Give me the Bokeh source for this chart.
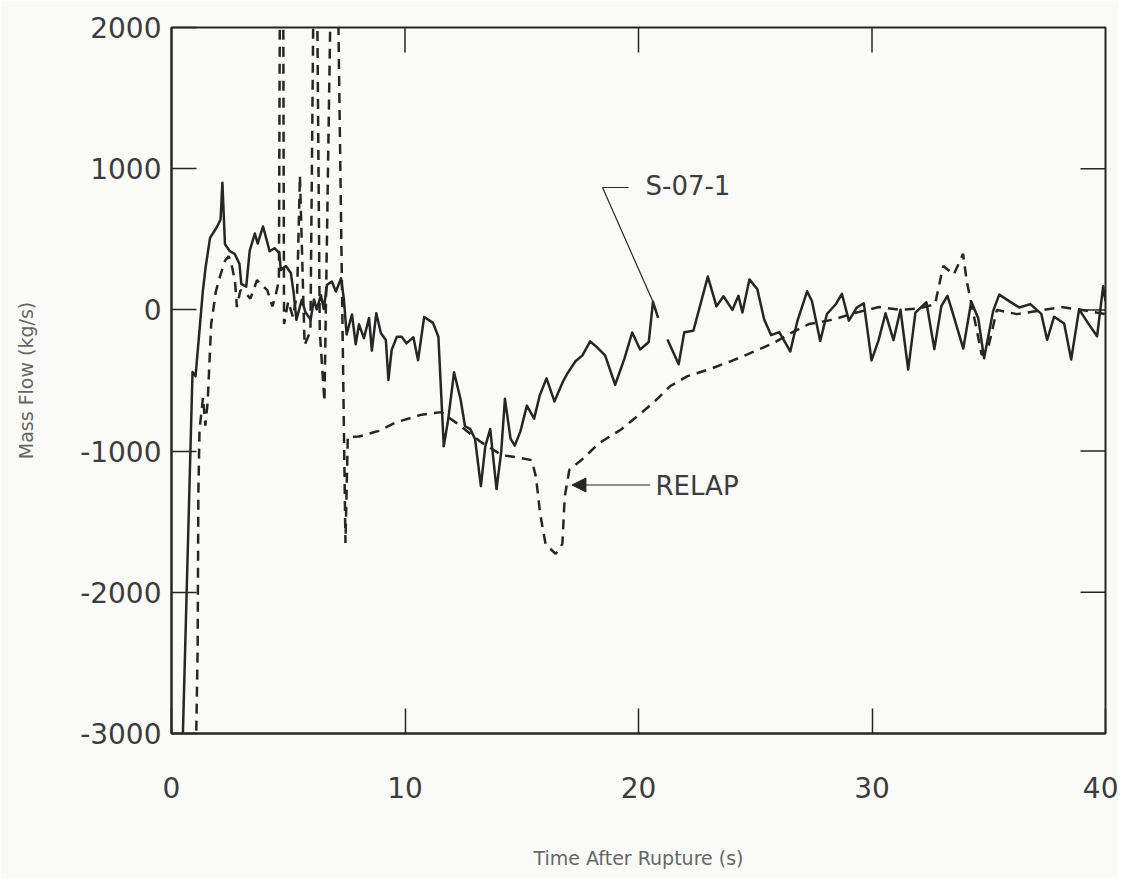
import math
from bokeh.plotting import figure
from bokeh.models import Range1d, FixedTicker, Arrow, NormalHead, Label
from bokeh.embed import file_html
from bokeh.resources import INLINE

nan = float("nan")

# ---- data ----
X_TICKS = [0, 10, 20, 30, 40]
Y_TICKS = [-3000, -2000, -1000, 0, 1000, 2000]
Y_TICK_LABELS = ["-3000", "-2000", "-1000", "0", "1000", "2000"]

# S-07-1 (measured, solid)
T_S = [0.48, 0.9, 1.03, 1.22, 1.34, 1.46, 1.65, 1.94, 2.1, 2.18,
       2.29, 2.5, 2.71, 2.91, 2.99, 3.2, 3.35, 3.57, 3.69, 3.92,
       4.08, 4.2, 4.41, 4.62, 4.68, 4.9, 5.11, 5.23, 5.35, 5.58,
       5.74, 5.96, 6.1, 6.22, 6.4, 6.52, 6.66, 6.87, 7.04, 7.26,
       7.38, 7.5, 7.73, 7.89, 8.03, 8.24, 8.46, 8.58, 8.77, 8.97,
       9.18, 9.29, 9.43, 9.65, 9.86, 10.06, 10.36, 10.56, 10.82, 11.2,
       11.43, 11.66, 11.85, 12.1, 12.38, 12.57, 12.8, 13.0, 13.25, 13.44,
       13.65, 13.92, 14.12, 14.28, 14.52, 14.7, 14.94, 15.22, 15.53, 15.77,
       16.06, 16.4, 16.77, 16.95, 17.3, 17.6, 17.93, 18.27, 18.57, 19.0,
       19.4, 19.73, 20.07, 20.44, 20.62, 20.84,
       nan,
       21.24, 21.72, 21.96, 22.35, 22.97, 23.34, 23.64, 24.02, 24.28, 24.45,
       24.75, 25.09, 25.38, 25.68, 26.03, 26.5, 26.8, 27.22, 27.43, 27.78,
       28.07, 28.46, 28.71, 29.01, 29.35, 29.65, 29.98, 30.28, 30.58, 30.92,
       31.22, 31.55, 31.86, 32.33, 32.67, 32.97, 33.23, 33.44, 33.91, 34.25,
       34.55, 34.8, 35.19, 35.45, 35.84, 36.31, 36.78, 37.25, 37.5, 37.8,
       38.23, 38.53, 38.87, 39.26, 39.64, 39.9, 40.0]
V_S = [-3050, -440, -470, -105, 130, 300, 510, 585, 640, 900,
       465, 416, 396, 326, 184, 164, 420, 541, 470, 591,
       492, 415, 437, 402, 282, 311, 262, 122, -70, 72,
       -19, -68, 74, 4, 104, 6, 178, 200, 130, 223,
       80, -174, -32, -244, -102, -200, -57, -289, -24, -165,
       -213, -496, -283, -190, -190, -237, -194, -356, -50, -92,
       -190, -966, -775, -442, -633, -824, -845, -915, -1248, -965,
       -844, -1269, -1006, -630, -912, -961, -862, -678, -770, -606,
       -485, -648, -506, -451, -364, -322, -223, -272, -322, -530,
       -343, -160, -280, -227, 57, -56,
       nan,
       -209, -385, -158, -148, 236, 25, 97, 0, 100, -19,
       216, 146, -66, -179, -157, -294, -82, 132, 61, -221,
       -29, 42, 114, -76, 17, 46, -358, -216, -24, -214,
       1, -423, -19, 54, -278, 27, 99, -13, -274, 60,
       -59, -342, -7, 108, 66, 17, 41, -28, -212, -48,
       -96, -351, 4, -95, -187, 168, 60]

# RELAP (calculated, dashed)
T_R = [1.05, 1.12, 1.15, 1.2, 1.35, 1.45, 1.55, 1.7, 1.9, 2.1,
       2.3, 2.45, 2.6, 2.72, 2.8, 2.95, 3.17, 3.38, 3.66, 4.1,
       4.32, 4.45, 4.6, 4.65, 4.78, 4.82, 5.0, 5.2, 5.38, 5.5,
       5.7, 5.95, 6.1, 6.22, 6.35, 6.55, 6.85, 7.1, 7.45, 7.55,
       8.03, 8.88, 9.6, 10.71, 11.56, 12.2, 13.2, 14.15, 14.88, 15.43,
       15.61, 15.79, 16.02, 16.45, 16.74, 16.84, 17.04, 17.58, 18.3, 19.27,
       20.12, 20.68, 21.35, 22.1, 23.08, 24.02, 24.96, 25.77, 26.54, 27.3,
       28.3, 29.3, 30.3, 31.2, 32.0, 32.7, 33.05, 33.5, 33.9, 34.06,
       34.3, 34.7, 35.0, 35.35, 36.2, 37.0, 38.1, 39.0, 40.0]
V_R = [-3100, -2400, -1300, -850, -620, -820, -650, -100, 130, 250,
       350, 380, 300, 200, 20, 140, 120, 80, 210, 140,
       25, 95, 210, 2600, 2600, -100, 60, -50, 120, 950,
       -250, -150, 2600, 2600, -150, -650, 2600, 2600, -1650, -900,
       -897, -857, -797, -742, -724, -800, -930, -1029, -1046, -1064,
       -1185, -1446, -1658, -1728, -1657, -1324, -1132, -1060, -945, -845,
       -730, -651, -541, -469, -418, -359, -294, -236, -163, -100,
       -70, -20, 20, 0, 10, 40, 311, 250, 397, 200,
       10, -320, -250, 0, -30, -10, 20, 0, -30]

LABEL_S = "S-07-1"
LABEL_R = "RELAP"
X_TITLE = "Time After Rupture (s)"
Y_TITLE = "Mass Flow (kg/s)"

# annotation anchor points (data units)
S_LABEL_POS = (20.3, 874)
S_LEADER_T = [19.57, 18.46, 20.62]
S_LEADER_V = [867, 867, 57]
R_LABEL_POS = (20.73, -1250)
R_ARROW = (20.5, -1240, 17.15, -1240)

INK = "#262626"
TXT = "#3c3c3c"
BG = "#fafaf8"
FONT = "DejaVu Sans"
TICK_LEN = 25

X0, X1 = X_TICKS[0], X_TICKS[-1]
Y0, Y1 = Y_TICKS[0], Y_TICKS[-1]

p = figure(width=1118, height=878, output_backend="svg", toolbar_location=None,
           x_range=Range1d(X0, X1), y_range=Range1d(Y0, Y1),
           min_border_left=171, min_border_right=13, min_border_top=27,
           min_border_bottom=145)
p.grid.visible = False
p.background_fill_color = BG
p.border_fill_color = BG
p.outline_line_color = INK
p.outline_line_width = 2

xa = p.xaxis[0]
ya = p.yaxis[0]
xa.ticker = FixedTicker(ticks=X_TICKS)
ya.ticker = FixedTicker(ticks=Y_TICKS)
ya.major_label_overrides = {t: l for t, l in zip(Y_TICKS, Y_TICK_LABELS)}
for ax in (xa, ya):
    ax.major_tick_in = TICK_LEN
    ax.major_tick_out = 0
    ax.minor_tick_line_color = None
    ax.axis_line_color = INK
    ax.axis_line_width = 2
    ax.major_tick_line_color = INK
    ax.major_tick_line_width = 1.5
    ax.major_label_text_font = FONT
    ax.major_label_text_font_size = "28px"
    ax.major_label_text_color = TXT
    ax.axis_label_text_font = FONT
    ax.axis_label_text_font_size = "19px"
    ax.axis_label_text_font_style = "normal"
    ax.axis_label_text_color = "#666666"
xa.major_label_standoff = 43
xa.axis_label = X_TITLE
xa.axis_label_standoff = 46
ya.major_label_standoff = 10
ya.axis_label = Y_TITLE
ya.axis_label_standoff = 40

# inward ticks on the top and right edges of the frame
p.ray(x=X_TICKS[1:-1], y=[Y1] * (len(X_TICKS) - 2), length=TICK_LEN, length_units="screen",
      angle=-math.pi / 2, line_color=INK, line_width=1.5)
p.ray(x=[X1] * (len(Y_TICKS) - 2), y=Y_TICKS[1:-1], length=TICK_LEN, length_units="screen",
      angle=math.pi, line_color=INK, line_width=1.5)

p.line(T_R, V_R, line_color=INK, line_width=2.5, line_dash="10 7")
p.line(T_S, V_S, line_color=INK, line_width=2.5, line_join="round")

# annotations
p.line(S_LEADER_T, S_LEADER_V, line_color=INK, line_width=1.2)
p.add_layout(Label(x=S_LABEL_POS[0], y=S_LABEL_POS[1], text=LABEL_S,
                   text_font=FONT, text_font_size="26px", text_color=TXT,
                   text_baseline="middle", text_align="left"))
p.add_layout(Arrow(x_start=R_ARROW[0], y_start=R_ARROW[1], x_end=R_ARROW[2], y_end=R_ARROW[3],
                   line_color=INK, line_width=1.2,
                   end=NormalHead(size=14, fill_color=INK, line_color=INK)))
p.add_layout(Label(x=R_LABEL_POS[0], y=R_LABEL_POS[1], text=LABEL_R,
                   text_font=FONT, text_font_size="26px", text_color=TXT,
                   text_baseline="middle", text_align="left"))

open("out.html", "w").write(file_html(p, INLINE))
